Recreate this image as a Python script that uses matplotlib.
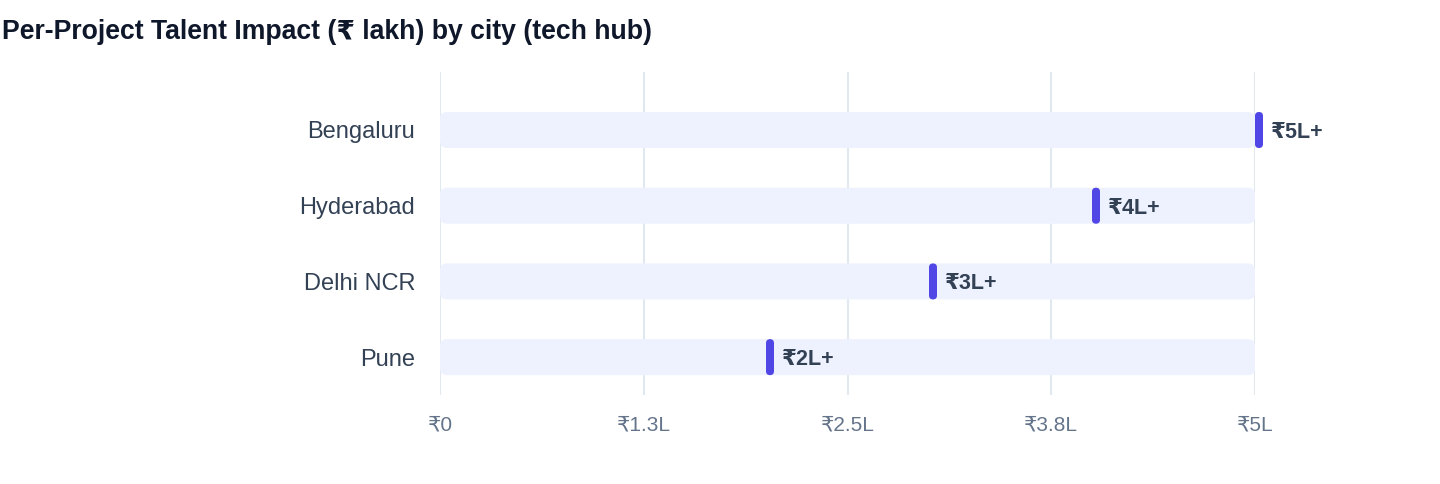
import matplotlib.pyplot as plt
from matplotlib.patches import FancyBboxPatch

plt.rcParams['font.family'] = ['Liberation Sans', 'DejaVu Sans']

# data
cities = ['Bengaluru', 'Hyderabad', 'Delhi NCR', 'Pune']
values = [5, 4, 3, 2]
value_labels = ['₹5L+', '₹4L+', '₹3L+', '₹2L+']
x_max = 5
tick_vals = [0, 1.25, 2.5, 3.75, 5]
tick_labels = ['₹0', '₹1.3L', '₹2.5L', '₹3.8L', '₹5L']

W, H = 1440, 484
fig = plt.figure(figsize=(W / 100, H / 100), dpi=100)
ax_l, ax_r, ax_t, ax_b = 440, 1255, 72, 395
ax = fig.add_axes([ax_l / W, 1 - ax_b / H, (ax_r - ax_l) / W, (ax_b - ax_t) / H])

y_top, y_bot = -0.766, 3.5
ax.set_xlim(0, x_max)
ax.set_ylim(y_bot, y_top)

# pixel -> data scale factors
px_x = x_max / (ax_r - ax_l)
px_y = (y_bot - y_top) / (ax_b - ax_t)
aspect = px_y / px_x

bar_h = 36 * px_y
for i, (v, lab) in enumerate(zip(values, value_labels)):
    bg = FancyBboxPatch((0, i - bar_h / 2), x_max, bar_h,
                        boxstyle=f"round,pad=0,rounding_size={7 * px_x}",
                        mutation_aspect=aspect, fc='#EEF2FF', ec='none', zorder=2)
    ax.add_patch(bg)
    mw = 8 * px_x
    mk = FancyBboxPatch((v, i - bar_h / 2), mw, bar_h,
                        boxstyle=f"round,pad=0,rounding_size={4 * px_x}",
                        mutation_aspect=aspect, fc='#4F46E5', ec='none', zorder=3,
                        clip_on=False)
    ax.add_patch(mk)
    ax.text(v + mw + 8 * px_x, i, lab, ha='left', va='center_baseline', fontsize=15.5,
            fontweight='bold', color='#334155', zorder=4, clip_on=False)

for t in tick_vals:
    ax.axvline(t, color='#E2E8F0', lw=1.5, zorder=1)

ax.set_yticks(range(len(cities)))
ax.set_yticklabels(cities, fontsize=17, color='#334155')
ax.set_xticks(tick_vals)
ax.set_xticklabels(tick_labels, fontsize=15, color='#64748B')
ax.tick_params(axis='y', length=0, pad=18)
ax.tick_params(axis='x', length=0, pad=15)
for s in ax.spines.values():
    s.set_visible(False)
ax.set_facecolor('none')

fig.text(2 / W, 1 - 32 / H, 'Per-Project Talent Impact (₹ lakh) by city (tech hub)',
         ha='left', va='center', fontsize=19.2, fontweight='bold', color='#0F172A')

fig.savefig('out.png', dpi=100)
